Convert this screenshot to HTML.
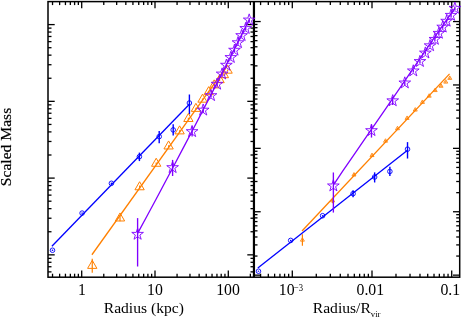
<!DOCTYPE html>
<html><head><meta charset="utf-8"><style>
html,body{margin:0;padding:0;background:#fff;}
body{width:471px;height:319px;overflow:hidden;position:relative;font-family:"Liberation Serif",serif;color:#000;}
svg{position:absolute;left:0;top:0;}
svg.tx{filter:grayscale(1);}
.t{position:absolute;white-space:nowrap;font-size:15px;line-height:15px;}
</style></head><body>
<svg width="471" height="319" viewBox="0 0 471 319">
<line x1="52.53" y1="1.60" x2="52.53" y2="5.10" stroke="#000" stroke-width="1.3" stroke-linecap="butt"/>
<line x1="52.53" y1="277.20" x2="52.53" y2="273.70" stroke="#000" stroke-width="1.3" stroke-linecap="butt"/>
<line x1="59.63" y1="1.60" x2="59.63" y2="5.10" stroke="#000" stroke-width="1.3" stroke-linecap="butt"/>
<line x1="59.63" y1="277.20" x2="59.63" y2="273.70" stroke="#000" stroke-width="1.3" stroke-linecap="butt"/>
<line x1="65.44" y1="1.60" x2="65.44" y2="5.10" stroke="#000" stroke-width="1.3" stroke-linecap="butt"/>
<line x1="65.44" y1="277.20" x2="65.44" y2="273.70" stroke="#000" stroke-width="1.3" stroke-linecap="butt"/>
<line x1="70.35" y1="1.60" x2="70.35" y2="5.10" stroke="#000" stroke-width="1.3" stroke-linecap="butt"/>
<line x1="70.35" y1="277.20" x2="70.35" y2="273.70" stroke="#000" stroke-width="1.3" stroke-linecap="butt"/>
<line x1="74.60" y1="1.60" x2="74.60" y2="5.10" stroke="#000" stroke-width="1.3" stroke-linecap="butt"/>
<line x1="74.60" y1="277.20" x2="74.60" y2="273.70" stroke="#000" stroke-width="1.3" stroke-linecap="butt"/>
<line x1="78.35" y1="1.60" x2="78.35" y2="5.10" stroke="#000" stroke-width="1.3" stroke-linecap="butt"/>
<line x1="78.35" y1="277.20" x2="78.35" y2="273.70" stroke="#000" stroke-width="1.3" stroke-linecap="butt"/>
<line x1="81.70" y1="1.60" x2="81.70" y2="8.30" stroke="#000" stroke-width="1.3" stroke-linecap="butt"/>
<line x1="81.70" y1="277.20" x2="81.70" y2="270.50" stroke="#000" stroke-width="1.3" stroke-linecap="butt"/>
<line x1="103.77" y1="1.60" x2="103.77" y2="5.10" stroke="#000" stroke-width="1.3" stroke-linecap="butt"/>
<line x1="103.77" y1="277.20" x2="103.77" y2="273.70" stroke="#000" stroke-width="1.3" stroke-linecap="butt"/>
<line x1="116.67" y1="1.60" x2="116.67" y2="5.10" stroke="#000" stroke-width="1.3" stroke-linecap="butt"/>
<line x1="116.67" y1="277.20" x2="116.67" y2="273.70" stroke="#000" stroke-width="1.3" stroke-linecap="butt"/>
<line x1="125.83" y1="1.60" x2="125.83" y2="5.10" stroke="#000" stroke-width="1.3" stroke-linecap="butt"/>
<line x1="125.83" y1="277.20" x2="125.83" y2="273.70" stroke="#000" stroke-width="1.3" stroke-linecap="butt"/>
<line x1="132.93" y1="1.60" x2="132.93" y2="5.10" stroke="#000" stroke-width="1.3" stroke-linecap="butt"/>
<line x1="132.93" y1="277.20" x2="132.93" y2="273.70" stroke="#000" stroke-width="1.3" stroke-linecap="butt"/>
<line x1="138.74" y1="1.60" x2="138.74" y2="5.10" stroke="#000" stroke-width="1.3" stroke-linecap="butt"/>
<line x1="138.74" y1="277.20" x2="138.74" y2="273.70" stroke="#000" stroke-width="1.3" stroke-linecap="butt"/>
<line x1="143.65" y1="1.60" x2="143.65" y2="5.10" stroke="#000" stroke-width="1.3" stroke-linecap="butt"/>
<line x1="143.65" y1="277.20" x2="143.65" y2="273.70" stroke="#000" stroke-width="1.3" stroke-linecap="butt"/>
<line x1="147.90" y1="1.60" x2="147.90" y2="5.10" stroke="#000" stroke-width="1.3" stroke-linecap="butt"/>
<line x1="147.90" y1="277.20" x2="147.90" y2="273.70" stroke="#000" stroke-width="1.3" stroke-linecap="butt"/>
<line x1="151.65" y1="1.60" x2="151.65" y2="5.10" stroke="#000" stroke-width="1.3" stroke-linecap="butt"/>
<line x1="151.65" y1="277.20" x2="151.65" y2="273.70" stroke="#000" stroke-width="1.3" stroke-linecap="butt"/>
<line x1="155.00" y1="1.60" x2="155.00" y2="8.30" stroke="#000" stroke-width="1.3" stroke-linecap="butt"/>
<line x1="155.00" y1="277.20" x2="155.00" y2="270.50" stroke="#000" stroke-width="1.3" stroke-linecap="butt"/>
<line x1="177.07" y1="1.60" x2="177.07" y2="5.10" stroke="#000" stroke-width="1.3" stroke-linecap="butt"/>
<line x1="177.07" y1="277.20" x2="177.07" y2="273.70" stroke="#000" stroke-width="1.3" stroke-linecap="butt"/>
<line x1="189.97" y1="1.60" x2="189.97" y2="5.10" stroke="#000" stroke-width="1.3" stroke-linecap="butt"/>
<line x1="189.97" y1="277.20" x2="189.97" y2="273.70" stroke="#000" stroke-width="1.3" stroke-linecap="butt"/>
<line x1="199.13" y1="1.60" x2="199.13" y2="5.10" stroke="#000" stroke-width="1.3" stroke-linecap="butt"/>
<line x1="199.13" y1="277.20" x2="199.13" y2="273.70" stroke="#000" stroke-width="1.3" stroke-linecap="butt"/>
<line x1="206.23" y1="1.60" x2="206.23" y2="5.10" stroke="#000" stroke-width="1.3" stroke-linecap="butt"/>
<line x1="206.23" y1="277.20" x2="206.23" y2="273.70" stroke="#000" stroke-width="1.3" stroke-linecap="butt"/>
<line x1="212.04" y1="1.60" x2="212.04" y2="5.10" stroke="#000" stroke-width="1.3" stroke-linecap="butt"/>
<line x1="212.04" y1="277.20" x2="212.04" y2="273.70" stroke="#000" stroke-width="1.3" stroke-linecap="butt"/>
<line x1="216.95" y1="1.60" x2="216.95" y2="5.10" stroke="#000" stroke-width="1.3" stroke-linecap="butt"/>
<line x1="216.95" y1="277.20" x2="216.95" y2="273.70" stroke="#000" stroke-width="1.3" stroke-linecap="butt"/>
<line x1="221.20" y1="1.60" x2="221.20" y2="5.10" stroke="#000" stroke-width="1.3" stroke-linecap="butt"/>
<line x1="221.20" y1="277.20" x2="221.20" y2="273.70" stroke="#000" stroke-width="1.3" stroke-linecap="butt"/>
<line x1="224.95" y1="1.60" x2="224.95" y2="5.10" stroke="#000" stroke-width="1.3" stroke-linecap="butt"/>
<line x1="224.95" y1="277.20" x2="224.95" y2="273.70" stroke="#000" stroke-width="1.3" stroke-linecap="butt"/>
<line x1="228.30" y1="1.60" x2="228.30" y2="8.30" stroke="#000" stroke-width="1.3" stroke-linecap="butt"/>
<line x1="228.30" y1="277.20" x2="228.30" y2="270.50" stroke="#000" stroke-width="1.3" stroke-linecap="butt"/>
<line x1="250.37" y1="1.60" x2="250.37" y2="5.10" stroke="#000" stroke-width="1.3" stroke-linecap="butt"/>
<line x1="250.37" y1="277.20" x2="250.37" y2="273.70" stroke="#000" stroke-width="1.3" stroke-linecap="butt"/>
<line x1="260.58" y1="1.60" x2="260.58" y2="5.10" stroke="#000" stroke-width="1.3" stroke-linecap="butt"/>
<line x1="260.58" y1="277.20" x2="260.58" y2="273.70" stroke="#000" stroke-width="1.3" stroke-linecap="butt"/>
<line x1="268.31" y1="1.60" x2="268.31" y2="5.10" stroke="#000" stroke-width="1.3" stroke-linecap="butt"/>
<line x1="268.31" y1="277.20" x2="268.31" y2="273.70" stroke="#000" stroke-width="1.3" stroke-linecap="butt"/>
<line x1="274.62" y1="1.60" x2="274.62" y2="5.10" stroke="#000" stroke-width="1.3" stroke-linecap="butt"/>
<line x1="274.62" y1="277.20" x2="274.62" y2="273.70" stroke="#000" stroke-width="1.3" stroke-linecap="butt"/>
<line x1="279.95" y1="1.60" x2="279.95" y2="5.10" stroke="#000" stroke-width="1.3" stroke-linecap="butt"/>
<line x1="279.95" y1="277.20" x2="279.95" y2="273.70" stroke="#000" stroke-width="1.3" stroke-linecap="butt"/>
<line x1="284.58" y1="1.60" x2="284.58" y2="5.10" stroke="#000" stroke-width="1.3" stroke-linecap="butt"/>
<line x1="284.58" y1="277.20" x2="284.58" y2="273.70" stroke="#000" stroke-width="1.3" stroke-linecap="butt"/>
<line x1="288.65" y1="1.60" x2="288.65" y2="5.10" stroke="#000" stroke-width="1.3" stroke-linecap="butt"/>
<line x1="288.65" y1="277.20" x2="288.65" y2="273.70" stroke="#000" stroke-width="1.3" stroke-linecap="butt"/>
<line x1="292.30" y1="1.60" x2="292.30" y2="8.30" stroke="#000" stroke-width="1.3" stroke-linecap="butt"/>
<line x1="292.30" y1="277.20" x2="292.30" y2="270.50" stroke="#000" stroke-width="1.3" stroke-linecap="butt"/>
<line x1="316.29" y1="1.60" x2="316.29" y2="5.10" stroke="#000" stroke-width="1.3" stroke-linecap="butt"/>
<line x1="316.29" y1="277.20" x2="316.29" y2="273.70" stroke="#000" stroke-width="1.3" stroke-linecap="butt"/>
<line x1="330.33" y1="1.60" x2="330.33" y2="5.10" stroke="#000" stroke-width="1.3" stroke-linecap="butt"/>
<line x1="330.33" y1="277.20" x2="330.33" y2="273.70" stroke="#000" stroke-width="1.3" stroke-linecap="butt"/>
<line x1="340.28" y1="1.60" x2="340.28" y2="5.10" stroke="#000" stroke-width="1.3" stroke-linecap="butt"/>
<line x1="340.28" y1="277.20" x2="340.28" y2="273.70" stroke="#000" stroke-width="1.3" stroke-linecap="butt"/>
<line x1="348.01" y1="1.60" x2="348.01" y2="5.10" stroke="#000" stroke-width="1.3" stroke-linecap="butt"/>
<line x1="348.01" y1="277.20" x2="348.01" y2="273.70" stroke="#000" stroke-width="1.3" stroke-linecap="butt"/>
<line x1="354.32" y1="1.60" x2="354.32" y2="5.10" stroke="#000" stroke-width="1.3" stroke-linecap="butt"/>
<line x1="354.32" y1="277.20" x2="354.32" y2="273.70" stroke="#000" stroke-width="1.3" stroke-linecap="butt"/>
<line x1="359.65" y1="1.60" x2="359.65" y2="5.10" stroke="#000" stroke-width="1.3" stroke-linecap="butt"/>
<line x1="359.65" y1="277.20" x2="359.65" y2="273.70" stroke="#000" stroke-width="1.3" stroke-linecap="butt"/>
<line x1="364.28" y1="1.60" x2="364.28" y2="5.10" stroke="#000" stroke-width="1.3" stroke-linecap="butt"/>
<line x1="364.28" y1="277.20" x2="364.28" y2="273.70" stroke="#000" stroke-width="1.3" stroke-linecap="butt"/>
<line x1="368.35" y1="1.60" x2="368.35" y2="5.10" stroke="#000" stroke-width="1.3" stroke-linecap="butt"/>
<line x1="368.35" y1="277.20" x2="368.35" y2="273.70" stroke="#000" stroke-width="1.3" stroke-linecap="butt"/>
<line x1="372.00" y1="1.60" x2="372.00" y2="8.30" stroke="#000" stroke-width="1.3" stroke-linecap="butt"/>
<line x1="372.00" y1="277.20" x2="372.00" y2="270.50" stroke="#000" stroke-width="1.3" stroke-linecap="butt"/>
<line x1="395.99" y1="1.60" x2="395.99" y2="5.10" stroke="#000" stroke-width="1.3" stroke-linecap="butt"/>
<line x1="395.99" y1="277.20" x2="395.99" y2="273.70" stroke="#000" stroke-width="1.3" stroke-linecap="butt"/>
<line x1="410.03" y1="1.60" x2="410.03" y2="5.10" stroke="#000" stroke-width="1.3" stroke-linecap="butt"/>
<line x1="410.03" y1="277.20" x2="410.03" y2="273.70" stroke="#000" stroke-width="1.3" stroke-linecap="butt"/>
<line x1="419.98" y1="1.60" x2="419.98" y2="5.10" stroke="#000" stroke-width="1.3" stroke-linecap="butt"/>
<line x1="419.98" y1="277.20" x2="419.98" y2="273.70" stroke="#000" stroke-width="1.3" stroke-linecap="butt"/>
<line x1="427.71" y1="1.60" x2="427.71" y2="5.10" stroke="#000" stroke-width="1.3" stroke-linecap="butt"/>
<line x1="427.71" y1="277.20" x2="427.71" y2="273.70" stroke="#000" stroke-width="1.3" stroke-linecap="butt"/>
<line x1="434.02" y1="1.60" x2="434.02" y2="5.10" stroke="#000" stroke-width="1.3" stroke-linecap="butt"/>
<line x1="434.02" y1="277.20" x2="434.02" y2="273.70" stroke="#000" stroke-width="1.3" stroke-linecap="butt"/>
<line x1="439.35" y1="1.60" x2="439.35" y2="5.10" stroke="#000" stroke-width="1.3" stroke-linecap="butt"/>
<line x1="439.35" y1="277.20" x2="439.35" y2="273.70" stroke="#000" stroke-width="1.3" stroke-linecap="butt"/>
<line x1="443.98" y1="1.60" x2="443.98" y2="5.10" stroke="#000" stroke-width="1.3" stroke-linecap="butt"/>
<line x1="443.98" y1="277.20" x2="443.98" y2="273.70" stroke="#000" stroke-width="1.3" stroke-linecap="butt"/>
<line x1="448.05" y1="1.60" x2="448.05" y2="5.10" stroke="#000" stroke-width="1.3" stroke-linecap="butt"/>
<line x1="448.05" y1="277.20" x2="448.05" y2="273.70" stroke="#000" stroke-width="1.3" stroke-linecap="butt"/>
<line x1="451.70" y1="1.60" x2="451.70" y2="8.30" stroke="#000" stroke-width="1.3" stroke-linecap="butt"/>
<line x1="451.70" y1="277.20" x2="451.70" y2="270.50" stroke="#000" stroke-width="1.3" stroke-linecap="butt"/>
<line x1="48.00" y1="24.60" x2="54.70" y2="24.60" stroke="#000" stroke-width="1.3" stroke-linecap="butt"/>
<line x1="254.00" y1="24.60" x2="247.30" y2="24.60" stroke="#000" stroke-width="1.3" stroke-linecap="butt"/>
<line x1="48.00" y1="78.25" x2="51.50" y2="78.25" stroke="#000" stroke-width="1.3" stroke-linecap="butt"/>
<line x1="254.00" y1="78.25" x2="250.50" y2="78.25" stroke="#000" stroke-width="1.3" stroke-linecap="butt"/>
<line x1="48.00" y1="64.73" x2="51.50" y2="64.73" stroke="#000" stroke-width="1.3" stroke-linecap="butt"/>
<line x1="254.00" y1="64.73" x2="250.50" y2="64.73" stroke="#000" stroke-width="1.3" stroke-linecap="butt"/>
<line x1="48.00" y1="55.14" x2="51.50" y2="55.14" stroke="#000" stroke-width="1.3" stroke-linecap="butt"/>
<line x1="254.00" y1="55.14" x2="250.50" y2="55.14" stroke="#000" stroke-width="1.3" stroke-linecap="butt"/>
<line x1="48.00" y1="47.70" x2="51.50" y2="47.70" stroke="#000" stroke-width="1.3" stroke-linecap="butt"/>
<line x1="254.00" y1="47.70" x2="250.50" y2="47.70" stroke="#000" stroke-width="1.3" stroke-linecap="butt"/>
<line x1="48.00" y1="41.63" x2="51.50" y2="41.63" stroke="#000" stroke-width="1.3" stroke-linecap="butt"/>
<line x1="254.00" y1="41.63" x2="250.50" y2="41.63" stroke="#000" stroke-width="1.3" stroke-linecap="butt"/>
<line x1="48.00" y1="36.49" x2="51.50" y2="36.49" stroke="#000" stroke-width="1.3" stroke-linecap="butt"/>
<line x1="254.00" y1="36.49" x2="250.50" y2="36.49" stroke="#000" stroke-width="1.3" stroke-linecap="butt"/>
<line x1="48.00" y1="32.04" x2="51.50" y2="32.04" stroke="#000" stroke-width="1.3" stroke-linecap="butt"/>
<line x1="254.00" y1="32.04" x2="250.50" y2="32.04" stroke="#000" stroke-width="1.3" stroke-linecap="butt"/>
<line x1="48.00" y1="28.11" x2="51.50" y2="28.11" stroke="#000" stroke-width="1.3" stroke-linecap="butt"/>
<line x1="254.00" y1="28.11" x2="250.50" y2="28.11" stroke="#000" stroke-width="1.3" stroke-linecap="butt"/>
<line x1="48.00" y1="101.35" x2="54.70" y2="101.35" stroke="#000" stroke-width="1.3" stroke-linecap="butt"/>
<line x1="254.00" y1="101.35" x2="247.30" y2="101.35" stroke="#000" stroke-width="1.3" stroke-linecap="butt"/>
<line x1="48.00" y1="155.00" x2="51.50" y2="155.00" stroke="#000" stroke-width="1.3" stroke-linecap="butt"/>
<line x1="254.00" y1="155.00" x2="250.50" y2="155.00" stroke="#000" stroke-width="1.3" stroke-linecap="butt"/>
<line x1="48.00" y1="141.48" x2="51.50" y2="141.48" stroke="#000" stroke-width="1.3" stroke-linecap="butt"/>
<line x1="254.00" y1="141.48" x2="250.50" y2="141.48" stroke="#000" stroke-width="1.3" stroke-linecap="butt"/>
<line x1="48.00" y1="131.89" x2="51.50" y2="131.89" stroke="#000" stroke-width="1.3" stroke-linecap="butt"/>
<line x1="254.00" y1="131.89" x2="250.50" y2="131.89" stroke="#000" stroke-width="1.3" stroke-linecap="butt"/>
<line x1="48.00" y1="124.45" x2="51.50" y2="124.45" stroke="#000" stroke-width="1.3" stroke-linecap="butt"/>
<line x1="254.00" y1="124.45" x2="250.50" y2="124.45" stroke="#000" stroke-width="1.3" stroke-linecap="butt"/>
<line x1="48.00" y1="118.38" x2="51.50" y2="118.38" stroke="#000" stroke-width="1.3" stroke-linecap="butt"/>
<line x1="254.00" y1="118.38" x2="250.50" y2="118.38" stroke="#000" stroke-width="1.3" stroke-linecap="butt"/>
<line x1="48.00" y1="113.24" x2="51.50" y2="113.24" stroke="#000" stroke-width="1.3" stroke-linecap="butt"/>
<line x1="254.00" y1="113.24" x2="250.50" y2="113.24" stroke="#000" stroke-width="1.3" stroke-linecap="butt"/>
<line x1="48.00" y1="108.79" x2="51.50" y2="108.79" stroke="#000" stroke-width="1.3" stroke-linecap="butt"/>
<line x1="254.00" y1="108.79" x2="250.50" y2="108.79" stroke="#000" stroke-width="1.3" stroke-linecap="butt"/>
<line x1="48.00" y1="104.86" x2="51.50" y2="104.86" stroke="#000" stroke-width="1.3" stroke-linecap="butt"/>
<line x1="254.00" y1="104.86" x2="250.50" y2="104.86" stroke="#000" stroke-width="1.3" stroke-linecap="butt"/>
<line x1="48.00" y1="178.10" x2="54.70" y2="178.10" stroke="#000" stroke-width="1.3" stroke-linecap="butt"/>
<line x1="254.00" y1="178.10" x2="247.30" y2="178.10" stroke="#000" stroke-width="1.3" stroke-linecap="butt"/>
<line x1="48.00" y1="231.75" x2="51.50" y2="231.75" stroke="#000" stroke-width="1.3" stroke-linecap="butt"/>
<line x1="254.00" y1="231.75" x2="250.50" y2="231.75" stroke="#000" stroke-width="1.3" stroke-linecap="butt"/>
<line x1="48.00" y1="218.23" x2="51.50" y2="218.23" stroke="#000" stroke-width="1.3" stroke-linecap="butt"/>
<line x1="254.00" y1="218.23" x2="250.50" y2="218.23" stroke="#000" stroke-width="1.3" stroke-linecap="butt"/>
<line x1="48.00" y1="208.64" x2="51.50" y2="208.64" stroke="#000" stroke-width="1.3" stroke-linecap="butt"/>
<line x1="254.00" y1="208.64" x2="250.50" y2="208.64" stroke="#000" stroke-width="1.3" stroke-linecap="butt"/>
<line x1="48.00" y1="201.20" x2="51.50" y2="201.20" stroke="#000" stroke-width="1.3" stroke-linecap="butt"/>
<line x1="254.00" y1="201.20" x2="250.50" y2="201.20" stroke="#000" stroke-width="1.3" stroke-linecap="butt"/>
<line x1="48.00" y1="195.13" x2="51.50" y2="195.13" stroke="#000" stroke-width="1.3" stroke-linecap="butt"/>
<line x1="254.00" y1="195.13" x2="250.50" y2="195.13" stroke="#000" stroke-width="1.3" stroke-linecap="butt"/>
<line x1="48.00" y1="189.99" x2="51.50" y2="189.99" stroke="#000" stroke-width="1.3" stroke-linecap="butt"/>
<line x1="254.00" y1="189.99" x2="250.50" y2="189.99" stroke="#000" stroke-width="1.3" stroke-linecap="butt"/>
<line x1="48.00" y1="185.54" x2="51.50" y2="185.54" stroke="#000" stroke-width="1.3" stroke-linecap="butt"/>
<line x1="254.00" y1="185.54" x2="250.50" y2="185.54" stroke="#000" stroke-width="1.3" stroke-linecap="butt"/>
<line x1="48.00" y1="181.61" x2="51.50" y2="181.61" stroke="#000" stroke-width="1.3" stroke-linecap="butt"/>
<line x1="254.00" y1="181.61" x2="250.50" y2="181.61" stroke="#000" stroke-width="1.3" stroke-linecap="butt"/>
<line x1="48.00" y1="254.85" x2="54.70" y2="254.85" stroke="#000" stroke-width="1.3" stroke-linecap="butt"/>
<line x1="254.00" y1="254.85" x2="247.30" y2="254.85" stroke="#000" stroke-width="1.3" stroke-linecap="butt"/>
<line x1="48.00" y1="271.88" x2="51.50" y2="271.88" stroke="#000" stroke-width="1.3" stroke-linecap="butt"/>
<line x1="254.00" y1="271.88" x2="250.50" y2="271.88" stroke="#000" stroke-width="1.3" stroke-linecap="butt"/>
<line x1="48.00" y1="266.74" x2="51.50" y2="266.74" stroke="#000" stroke-width="1.3" stroke-linecap="butt"/>
<line x1="254.00" y1="266.74" x2="250.50" y2="266.74" stroke="#000" stroke-width="1.3" stroke-linecap="butt"/>
<line x1="48.00" y1="262.29" x2="51.50" y2="262.29" stroke="#000" stroke-width="1.3" stroke-linecap="butt"/>
<line x1="254.00" y1="262.29" x2="250.50" y2="262.29" stroke="#000" stroke-width="1.3" stroke-linecap="butt"/>
<line x1="48.00" y1="258.36" x2="51.50" y2="258.36" stroke="#000" stroke-width="1.3" stroke-linecap="butt"/>
<line x1="254.00" y1="258.36" x2="250.50" y2="258.36" stroke="#000" stroke-width="1.3" stroke-linecap="butt"/>
<line x1="254.00" y1="21.55" x2="260.70" y2="21.55" stroke="#000" stroke-width="1.3" stroke-linecap="butt"/>
<line x1="459.70" y1="21.55" x2="453.00" y2="21.55" stroke="#000" stroke-width="1.3" stroke-linecap="butt"/>
<line x1="254.00" y1="65.86" x2="257.50" y2="65.86" stroke="#000" stroke-width="1.3" stroke-linecap="butt"/>
<line x1="459.70" y1="65.86" x2="456.20" y2="65.86" stroke="#000" stroke-width="1.3" stroke-linecap="butt"/>
<line x1="254.00" y1="54.70" x2="257.50" y2="54.70" stroke="#000" stroke-width="1.3" stroke-linecap="butt"/>
<line x1="459.70" y1="54.70" x2="456.20" y2="54.70" stroke="#000" stroke-width="1.3" stroke-linecap="butt"/>
<line x1="254.00" y1="46.78" x2="257.50" y2="46.78" stroke="#000" stroke-width="1.3" stroke-linecap="butt"/>
<line x1="459.70" y1="46.78" x2="456.20" y2="46.78" stroke="#000" stroke-width="1.3" stroke-linecap="butt"/>
<line x1="254.00" y1="40.64" x2="257.50" y2="40.64" stroke="#000" stroke-width="1.3" stroke-linecap="butt"/>
<line x1="459.70" y1="40.64" x2="456.20" y2="40.64" stroke="#000" stroke-width="1.3" stroke-linecap="butt"/>
<line x1="254.00" y1="35.62" x2="257.50" y2="35.62" stroke="#000" stroke-width="1.3" stroke-linecap="butt"/>
<line x1="459.70" y1="35.62" x2="456.20" y2="35.62" stroke="#000" stroke-width="1.3" stroke-linecap="butt"/>
<line x1="254.00" y1="31.37" x2="257.50" y2="31.37" stroke="#000" stroke-width="1.3" stroke-linecap="butt"/>
<line x1="459.70" y1="31.37" x2="456.20" y2="31.37" stroke="#000" stroke-width="1.3" stroke-linecap="butt"/>
<line x1="254.00" y1="27.69" x2="257.50" y2="27.69" stroke="#000" stroke-width="1.3" stroke-linecap="butt"/>
<line x1="459.70" y1="27.69" x2="456.20" y2="27.69" stroke="#000" stroke-width="1.3" stroke-linecap="butt"/>
<line x1="254.00" y1="24.45" x2="257.50" y2="24.45" stroke="#000" stroke-width="1.3" stroke-linecap="butt"/>
<line x1="459.70" y1="24.45" x2="456.20" y2="24.45" stroke="#000" stroke-width="1.3" stroke-linecap="butt"/>
<line x1="254.00" y1="84.95" x2="260.70" y2="84.95" stroke="#000" stroke-width="1.3" stroke-linecap="butt"/>
<line x1="459.70" y1="84.95" x2="453.00" y2="84.95" stroke="#000" stroke-width="1.3" stroke-linecap="butt"/>
<line x1="254.00" y1="129.26" x2="257.50" y2="129.26" stroke="#000" stroke-width="1.3" stroke-linecap="butt"/>
<line x1="459.70" y1="129.26" x2="456.20" y2="129.26" stroke="#000" stroke-width="1.3" stroke-linecap="butt"/>
<line x1="254.00" y1="118.10" x2="257.50" y2="118.10" stroke="#000" stroke-width="1.3" stroke-linecap="butt"/>
<line x1="459.70" y1="118.10" x2="456.20" y2="118.10" stroke="#000" stroke-width="1.3" stroke-linecap="butt"/>
<line x1="254.00" y1="110.18" x2="257.50" y2="110.18" stroke="#000" stroke-width="1.3" stroke-linecap="butt"/>
<line x1="459.70" y1="110.18" x2="456.20" y2="110.18" stroke="#000" stroke-width="1.3" stroke-linecap="butt"/>
<line x1="254.00" y1="104.04" x2="257.50" y2="104.04" stroke="#000" stroke-width="1.3" stroke-linecap="butt"/>
<line x1="459.70" y1="104.04" x2="456.20" y2="104.04" stroke="#000" stroke-width="1.3" stroke-linecap="butt"/>
<line x1="254.00" y1="99.02" x2="257.50" y2="99.02" stroke="#000" stroke-width="1.3" stroke-linecap="butt"/>
<line x1="459.70" y1="99.02" x2="456.20" y2="99.02" stroke="#000" stroke-width="1.3" stroke-linecap="butt"/>
<line x1="254.00" y1="94.77" x2="257.50" y2="94.77" stroke="#000" stroke-width="1.3" stroke-linecap="butt"/>
<line x1="459.70" y1="94.77" x2="456.20" y2="94.77" stroke="#000" stroke-width="1.3" stroke-linecap="butt"/>
<line x1="254.00" y1="91.09" x2="257.50" y2="91.09" stroke="#000" stroke-width="1.3" stroke-linecap="butt"/>
<line x1="459.70" y1="91.09" x2="456.20" y2="91.09" stroke="#000" stroke-width="1.3" stroke-linecap="butt"/>
<line x1="254.00" y1="87.85" x2="257.50" y2="87.85" stroke="#000" stroke-width="1.3" stroke-linecap="butt"/>
<line x1="459.70" y1="87.85" x2="456.20" y2="87.85" stroke="#000" stroke-width="1.3" stroke-linecap="butt"/>
<line x1="254.00" y1="148.35" x2="260.70" y2="148.35" stroke="#000" stroke-width="1.3" stroke-linecap="butt"/>
<line x1="459.70" y1="148.35" x2="453.00" y2="148.35" stroke="#000" stroke-width="1.3" stroke-linecap="butt"/>
<line x1="254.00" y1="192.66" x2="257.50" y2="192.66" stroke="#000" stroke-width="1.3" stroke-linecap="butt"/>
<line x1="459.70" y1="192.66" x2="456.20" y2="192.66" stroke="#000" stroke-width="1.3" stroke-linecap="butt"/>
<line x1="254.00" y1="181.50" x2="257.50" y2="181.50" stroke="#000" stroke-width="1.3" stroke-linecap="butt"/>
<line x1="459.70" y1="181.50" x2="456.20" y2="181.50" stroke="#000" stroke-width="1.3" stroke-linecap="butt"/>
<line x1="254.00" y1="173.58" x2="257.50" y2="173.58" stroke="#000" stroke-width="1.3" stroke-linecap="butt"/>
<line x1="459.70" y1="173.58" x2="456.20" y2="173.58" stroke="#000" stroke-width="1.3" stroke-linecap="butt"/>
<line x1="254.00" y1="167.44" x2="257.50" y2="167.44" stroke="#000" stroke-width="1.3" stroke-linecap="butt"/>
<line x1="459.70" y1="167.44" x2="456.20" y2="167.44" stroke="#000" stroke-width="1.3" stroke-linecap="butt"/>
<line x1="254.00" y1="162.42" x2="257.50" y2="162.42" stroke="#000" stroke-width="1.3" stroke-linecap="butt"/>
<line x1="459.70" y1="162.42" x2="456.20" y2="162.42" stroke="#000" stroke-width="1.3" stroke-linecap="butt"/>
<line x1="254.00" y1="158.17" x2="257.50" y2="158.17" stroke="#000" stroke-width="1.3" stroke-linecap="butt"/>
<line x1="459.70" y1="158.17" x2="456.20" y2="158.17" stroke="#000" stroke-width="1.3" stroke-linecap="butt"/>
<line x1="254.00" y1="154.49" x2="257.50" y2="154.49" stroke="#000" stroke-width="1.3" stroke-linecap="butt"/>
<line x1="459.70" y1="154.49" x2="456.20" y2="154.49" stroke="#000" stroke-width="1.3" stroke-linecap="butt"/>
<line x1="254.00" y1="151.25" x2="257.50" y2="151.25" stroke="#000" stroke-width="1.3" stroke-linecap="butt"/>
<line x1="459.70" y1="151.25" x2="456.20" y2="151.25" stroke="#000" stroke-width="1.3" stroke-linecap="butt"/>
<line x1="254.00" y1="211.75" x2="260.70" y2="211.75" stroke="#000" stroke-width="1.3" stroke-linecap="butt"/>
<line x1="459.70" y1="211.75" x2="453.00" y2="211.75" stroke="#000" stroke-width="1.3" stroke-linecap="butt"/>
<line x1="254.00" y1="256.06" x2="257.50" y2="256.06" stroke="#000" stroke-width="1.3" stroke-linecap="butt"/>
<line x1="459.70" y1="256.06" x2="456.20" y2="256.06" stroke="#000" stroke-width="1.3" stroke-linecap="butt"/>
<line x1="254.00" y1="244.90" x2="257.50" y2="244.90" stroke="#000" stroke-width="1.3" stroke-linecap="butt"/>
<line x1="459.70" y1="244.90" x2="456.20" y2="244.90" stroke="#000" stroke-width="1.3" stroke-linecap="butt"/>
<line x1="254.00" y1="236.98" x2="257.50" y2="236.98" stroke="#000" stroke-width="1.3" stroke-linecap="butt"/>
<line x1="459.70" y1="236.98" x2="456.20" y2="236.98" stroke="#000" stroke-width="1.3" stroke-linecap="butt"/>
<line x1="254.00" y1="230.84" x2="257.50" y2="230.84" stroke="#000" stroke-width="1.3" stroke-linecap="butt"/>
<line x1="459.70" y1="230.84" x2="456.20" y2="230.84" stroke="#000" stroke-width="1.3" stroke-linecap="butt"/>
<line x1="254.00" y1="225.82" x2="257.50" y2="225.82" stroke="#000" stroke-width="1.3" stroke-linecap="butt"/>
<line x1="459.70" y1="225.82" x2="456.20" y2="225.82" stroke="#000" stroke-width="1.3" stroke-linecap="butt"/>
<line x1="254.00" y1="221.57" x2="257.50" y2="221.57" stroke="#000" stroke-width="1.3" stroke-linecap="butt"/>
<line x1="459.70" y1="221.57" x2="456.20" y2="221.57" stroke="#000" stroke-width="1.3" stroke-linecap="butt"/>
<line x1="254.00" y1="217.89" x2="257.50" y2="217.89" stroke="#000" stroke-width="1.3" stroke-linecap="butt"/>
<line x1="459.70" y1="217.89" x2="456.20" y2="217.89" stroke="#000" stroke-width="1.3" stroke-linecap="butt"/>
<line x1="254.00" y1="214.65" x2="257.50" y2="214.65" stroke="#000" stroke-width="1.3" stroke-linecap="butt"/>
<line x1="459.70" y1="214.65" x2="456.20" y2="214.65" stroke="#000" stroke-width="1.3" stroke-linecap="butt"/>
<line x1="254.00" y1="275.15" x2="260.70" y2="275.15" stroke="#000" stroke-width="1.3" stroke-linecap="butt"/>
<line x1="459.70" y1="275.15" x2="453.00" y2="275.15" stroke="#000" stroke-width="1.3" stroke-linecap="butt"/>
<rect x="48.0" y="1.6" width="411.7" height="275.59999999999997" fill="none" stroke="#000" stroke-width="1.5"/>
<line x1="253.95" y1="1.60" x2="253.95" y2="277.20" stroke="#000" stroke-width="2.2" stroke-linecap="butt"/>
<polyline points="51.90,246.25 189.40,104.20" fill="none" stroke="#0000ff" stroke-width="1.3"/>
<line x1="52.50" y1="249.55" x2="52.50" y2="250.95" stroke="#0000ff" stroke-width="1.4" stroke-linecap="butt"/>
<circle cx="52.50" cy="250.25" r="2.3" fill="none" stroke="#0000ff" stroke-width="0.9"/>
<line x1="82.10" y1="212.40" x2="82.10" y2="213.80" stroke="#0000ff" stroke-width="1.4" stroke-linecap="butt"/>
<circle cx="82.10" cy="213.10" r="2.3" fill="none" stroke="#0000ff" stroke-width="0.9"/>
<line x1="111.40" y1="182.60" x2="111.40" y2="184.00" stroke="#0000ff" stroke-width="1.4" stroke-linecap="butt"/>
<circle cx="111.40" cy="183.30" r="2.3" fill="none" stroke="#0000ff" stroke-width="0.9"/>
<line x1="139.40" y1="152.60" x2="139.40" y2="161.10" stroke="#0000ff" stroke-width="1.4" stroke-linecap="butt"/>
<circle cx="139.40" cy="156.70" r="2.3" fill="none" stroke="#0000ff" stroke-width="0.9"/>
<line x1="159.20" y1="131.00" x2="159.20" y2="143.20" stroke="#0000ff" stroke-width="1.4" stroke-linecap="butt"/>
<circle cx="159.20" cy="136.60" r="2.3" fill="none" stroke="#0000ff" stroke-width="0.9"/>
<line x1="173.20" y1="124.30" x2="173.20" y2="135.50" stroke="#0000ff" stroke-width="1.4" stroke-linecap="butt"/>
<circle cx="173.20" cy="129.90" r="2.3" fill="none" stroke="#0000ff" stroke-width="0.9"/>
<line x1="189.40" y1="94.50" x2="189.40" y2="114.30" stroke="#0000ff" stroke-width="1.4" stroke-linecap="butt"/>
<circle cx="189.40" cy="103.00" r="2.3" fill="none" stroke="#0000ff" stroke-width="0.9"/>
<polyline points="91.90,254.75 227.40,65.30" fill="none" stroke="#ff8000" stroke-width="1.3"/>
<line x1="92.25" y1="258.70" x2="92.25" y2="272.70" stroke="#ff8000" stroke-width="1.2" stroke-linecap="butt"/>
<polygon points="92.25,260.33 87.60,268.38 96.90,268.38" fill="none" stroke="#ff8000" stroke-width="1.0"/>
<line x1="120.00" y1="215.30" x2="120.00" y2="221.30" stroke="#ff8000" stroke-width="1.2" stroke-linecap="butt"/>
<polygon points="120.00,212.93 115.35,220.98 124.65,220.98" fill="none" stroke="#ff8000" stroke-width="1.0"/>
<line x1="139.60" y1="185.60" x2="139.60" y2="188.60" stroke="#ff8000" stroke-width="1.2" stroke-linecap="butt"/>
<polygon points="139.60,181.73 134.95,189.78 144.25,189.78" fill="none" stroke="#ff8000" stroke-width="1.0"/>
<line x1="156.20" y1="162.60" x2="156.20" y2="164.60" stroke="#ff8000" stroke-width="1.2" stroke-linecap="butt"/>
<polygon points="156.20,158.23 151.55,166.28 160.85,166.28" fill="none" stroke="#ff8000" stroke-width="1.0"/>
<line x1="168.60" y1="145.30" x2="168.60" y2="147.30" stroke="#ff8000" stroke-width="1.2" stroke-linecap="butt"/>
<polygon points="168.60,140.93 163.95,148.98 173.25,148.98" fill="none" stroke="#ff8000" stroke-width="1.0"/>
<line x1="179.60" y1="130.20" x2="179.60" y2="132.20" stroke="#ff8000" stroke-width="1.2" stroke-linecap="butt"/>
<polygon points="179.60,125.83 174.95,133.88 184.25,133.88" fill="none" stroke="#ff8000" stroke-width="1.0"/>
<line x1="188.40" y1="117.80" x2="188.40" y2="119.80" stroke="#ff8000" stroke-width="1.2" stroke-linecap="butt"/>
<polygon points="188.40,113.43 183.75,121.48 193.05,121.48" fill="none" stroke="#ff8000" stroke-width="1.0"/>
<line x1="195.90" y1="107.70" x2="195.90" y2="109.70" stroke="#ff8000" stroke-width="1.2" stroke-linecap="butt"/>
<polygon points="195.90,103.33 191.25,111.38 200.55,111.38" fill="none" stroke="#ff8000" stroke-width="1.0"/>
<line x1="202.50" y1="98.50" x2="202.50" y2="100.50" stroke="#ff8000" stroke-width="1.2" stroke-linecap="butt"/>
<polygon points="202.50,94.13 197.85,102.18 207.15,102.18" fill="none" stroke="#ff8000" stroke-width="1.0"/>
<line x1="208.70" y1="91.00" x2="208.70" y2="93.00" stroke="#ff8000" stroke-width="1.2" stroke-linecap="butt"/>
<polygon points="208.70,86.63 204.05,94.68 213.35,94.68" fill="none" stroke="#ff8000" stroke-width="1.0"/>
<line x1="214.20" y1="84.20" x2="214.20" y2="86.20" stroke="#ff8000" stroke-width="1.2" stroke-linecap="butt"/>
<polygon points="214.20,79.83 209.55,87.88 218.85,87.88" fill="none" stroke="#ff8000" stroke-width="1.0"/>
<line x1="219.60" y1="79.00" x2="219.60" y2="81.00" stroke="#ff8000" stroke-width="1.2" stroke-linecap="butt"/>
<polygon points="219.60,74.63 214.95,82.68 224.25,82.68" fill="none" stroke="#ff8000" stroke-width="1.0"/>
<line x1="223.90" y1="74.00" x2="223.90" y2="76.00" stroke="#ff8000" stroke-width="1.2" stroke-linecap="butt"/>
<polygon points="223.90,69.63 219.25,77.68 228.55,77.68" fill="none" stroke="#ff8000" stroke-width="1.0"/>
<line x1="227.60" y1="69.50" x2="227.60" y2="71.50" stroke="#ff8000" stroke-width="1.2" stroke-linecap="butt"/>
<polygon points="227.60,65.13 222.95,73.18 232.25,73.18" fill="none" stroke="#ff8000" stroke-width="1.0"/>
<polyline points="137.60,233.43 146.89,216.24 156.18,198.95 165.47,181.55 174.77,164.04 184.06,146.42 193.35,128.69 202.64,110.85 211.93,92.91 221.22,74.85 230.52,56.69 239.81,38.41 249.10,20.03" fill="none" stroke="#8000ff" stroke-width="1.3"/>
<line x1="137.60" y1="218.10" x2="137.60" y2="266.50" stroke="#8000ff" stroke-width="1.35" stroke-linecap="butt"/>
<polygon points="137.60,228.15 138.98,232.40 143.45,232.40 139.83,235.03 141.21,239.28 137.60,236.65 133.99,239.28 135.37,235.03 131.75,232.40 136.22,232.40" fill="none" stroke="#8000ff" stroke-width="0.9" stroke-linejoin="miter"/>
<line x1="172.60" y1="159.90" x2="172.60" y2="176.00" stroke="#8000ff" stroke-width="1.35" stroke-linecap="butt"/>
<polygon points="172.60,161.45 173.98,165.70 178.45,165.70 174.83,168.33 176.21,172.58 172.60,169.95 168.99,172.58 170.37,168.33 166.75,165.70 171.22,165.70" fill="none" stroke="#8000ff" stroke-width="0.9" stroke-linejoin="miter"/>
<line x1="192.10" y1="126.60" x2="192.10" y2="136.60" stroke="#8000ff" stroke-width="1.35" stroke-linecap="butt"/>
<polygon points="192.10,125.45 193.48,129.70 197.95,129.70 194.33,132.33 195.71,136.58 192.10,133.95 188.49,136.58 189.87,132.33 186.25,129.70 190.72,129.70" fill="none" stroke="#8000ff" stroke-width="0.9" stroke-linejoin="miter"/>
<line x1="203.20" y1="107.10" x2="203.20" y2="113.10" stroke="#8000ff" stroke-width="1.35" stroke-linecap="butt"/>
<polygon points="203.20,103.95 204.58,108.20 209.05,108.20 205.43,110.83 206.81,115.08 203.20,112.45 199.59,115.08 200.97,110.83 197.35,108.20 201.82,108.20" fill="none" stroke="#8000ff" stroke-width="0.9" stroke-linejoin="miter"/>
<line x1="211.00" y1="93.60" x2="211.00" y2="97.60" stroke="#8000ff" stroke-width="1.35" stroke-linecap="butt"/>
<polygon points="211.00,89.45 212.38,93.70 216.85,93.70 213.23,96.33 214.61,100.58 211.00,97.95 207.39,100.58 208.77,96.33 205.15,93.70 209.62,93.70" fill="none" stroke="#8000ff" stroke-width="0.9" stroke-linejoin="miter"/>
<line x1="217.10" y1="82.20" x2="217.10" y2="86.20" stroke="#8000ff" stroke-width="1.35" stroke-linecap="butt"/>
<polygon points="217.10,78.05 218.48,82.30 222.95,82.30 219.33,84.93 220.71,89.18 217.10,86.55 213.49,89.18 214.87,84.93 211.25,82.30 215.72,82.30" fill="none" stroke="#8000ff" stroke-width="0.9" stroke-linejoin="miter"/>
<line x1="222.10" y1="72.00" x2="222.10" y2="76.00" stroke="#8000ff" stroke-width="1.35" stroke-linecap="butt"/>
<polygon points="222.10,67.85 223.48,72.10 227.95,72.10 224.33,74.73 225.71,78.98 222.10,76.35 218.49,78.98 219.87,74.73 216.25,72.10 220.72,72.10" fill="none" stroke="#8000ff" stroke-width="0.9" stroke-linejoin="miter"/>
<line x1="226.40" y1="63.20" x2="226.40" y2="67.20" stroke="#8000ff" stroke-width="1.35" stroke-linecap="butt"/>
<polygon points="226.40,59.05 227.78,63.30 232.25,63.30 228.63,65.93 230.01,70.18 226.40,67.55 222.79,70.18 224.17,65.93 220.55,63.30 225.02,63.30" fill="none" stroke="#8000ff" stroke-width="0.9" stroke-linejoin="miter"/>
<line x1="230.80" y1="55.50" x2="230.80" y2="59.50" stroke="#8000ff" stroke-width="1.35" stroke-linecap="butt"/>
<polygon points="230.80,51.35 232.18,55.60 236.65,55.60 233.03,58.23 234.41,62.48 230.80,59.85 227.19,62.48 228.57,58.23 224.95,55.60 229.42,55.60" fill="none" stroke="#8000ff" stroke-width="0.9" stroke-linejoin="miter"/>
<line x1="234.50" y1="48.20" x2="234.50" y2="52.20" stroke="#8000ff" stroke-width="1.35" stroke-linecap="butt"/>
<polygon points="234.50,44.05 235.88,48.30 240.35,48.30 236.73,50.93 238.11,55.18 234.50,52.55 230.89,55.18 232.27,50.93 228.65,48.30 233.12,48.30" fill="none" stroke="#8000ff" stroke-width="0.9" stroke-linejoin="miter"/>
<line x1="238.00" y1="40.70" x2="238.00" y2="44.70" stroke="#8000ff" stroke-width="1.35" stroke-linecap="butt"/>
<polygon points="238.00,36.55 239.38,40.80 243.85,40.80 240.23,43.43 241.61,47.68 238.00,45.05 234.39,47.68 235.77,43.43 232.15,40.80 236.62,40.80" fill="none" stroke="#8000ff" stroke-width="0.9" stroke-linejoin="miter"/>
<line x1="241.60" y1="33.60" x2="241.60" y2="37.60" stroke="#8000ff" stroke-width="1.35" stroke-linecap="butt"/>
<polygon points="241.60,29.45 242.98,33.70 247.45,33.70 243.83,36.33 245.21,40.58 241.60,37.95 237.99,40.58 239.37,36.33 235.75,33.70 240.22,33.70" fill="none" stroke="#8000ff" stroke-width="0.9" stroke-linejoin="miter"/>
<line x1="245.70" y1="26.50" x2="245.70" y2="30.50" stroke="#8000ff" stroke-width="1.35" stroke-linecap="butt"/>
<polygon points="245.70,22.35 247.08,26.60 251.55,26.60 247.93,29.23 249.31,33.48 245.70,30.85 242.09,33.48 243.47,29.23 239.85,26.60 244.32,26.60" fill="none" stroke="#8000ff" stroke-width="0.9" stroke-linejoin="miter"/>
<line x1="249.20" y1="18.00" x2="249.20" y2="22.00" stroke="#8000ff" stroke-width="1.35" stroke-linecap="butt"/>
<polygon points="249.20,13.85 250.58,18.10 255.05,18.10 251.43,20.73 252.81,24.98 249.20,22.35 245.59,24.98 246.97,20.73 243.35,18.10 247.82,18.10" fill="none" stroke="#8000ff" stroke-width="0.9" stroke-linejoin="miter"/>
<polyline points="257.81,267.89 407.52,150.16" fill="none" stroke="#0000ff" stroke-width="1.3"/>
<line x1="258.46" y1="270.63" x2="258.46" y2="271.79" stroke="#0000ff" stroke-width="1.4" stroke-linecap="butt"/>
<circle cx="258.46" cy="271.21" r="2.3" fill="none" stroke="#0000ff" stroke-width="0.9"/>
<line x1="290.69" y1="239.84" x2="290.69" y2="241.00" stroke="#0000ff" stroke-width="1.4" stroke-linecap="butt"/>
<circle cx="290.69" cy="240.42" r="2.3" fill="none" stroke="#0000ff" stroke-width="0.9"/>
<line x1="322.59" y1="215.14" x2="322.59" y2="216.30" stroke="#0000ff" stroke-width="1.4" stroke-linecap="butt"/>
<circle cx="322.59" cy="215.72" r="2.3" fill="none" stroke="#0000ff" stroke-width="0.9"/>
<line x1="353.08" y1="190.27" x2="353.08" y2="197.32" stroke="#0000ff" stroke-width="1.4" stroke-linecap="butt"/>
<circle cx="353.08" cy="193.67" r="2.3" fill="none" stroke="#0000ff" stroke-width="0.9"/>
<line x1="374.64" y1="172.37" x2="374.64" y2="182.48" stroke="#0000ff" stroke-width="1.4" stroke-linecap="butt"/>
<circle cx="374.64" cy="177.01" r="2.3" fill="none" stroke="#0000ff" stroke-width="0.9"/>
<line x1="389.88" y1="166.82" x2="389.88" y2="176.10" stroke="#0000ff" stroke-width="1.4" stroke-linecap="butt"/>
<circle cx="389.88" cy="171.46" r="2.3" fill="none" stroke="#0000ff" stroke-width="0.9"/>
<line x1="407.52" y1="142.12" x2="407.52" y2="158.53" stroke="#0000ff" stroke-width="1.4" stroke-linecap="butt"/>
<circle cx="407.52" cy="149.17" r="2.3" fill="none" stroke="#0000ff" stroke-width="0.9"/>
<polyline points="302.02,230.94 449.55,73.92" fill="none" stroke="#ff8000" stroke-width="1.3"/>
<line x1="302.40" y1="234.21" x2="302.40" y2="245.81" stroke="#ff8000" stroke-width="1.2" stroke-linecap="butt"/>
<polygon points="302.40,237.70 300.40,241.17 304.40,241.17" fill="none" stroke="#ff8000" stroke-width="0.85"/>
<line x1="332.62" y1="198.24" x2="332.62" y2="203.21" stroke="#ff8000" stroke-width="1.2" stroke-linecap="butt"/>
<polygon points="332.62,198.42 330.62,201.88 334.62,201.88" fill="none" stroke="#ff8000" stroke-width="0.85"/>
<line x1="353.96" y1="173.63" x2="353.96" y2="176.11" stroke="#ff8000" stroke-width="1.2" stroke-linecap="butt"/>
<polygon points="353.96,172.56 351.96,176.02 355.96,176.02" fill="none" stroke="#ff8000" stroke-width="0.85"/>
<line x1="372.03" y1="154.56" x2="372.03" y2="156.22" stroke="#ff8000" stroke-width="1.2" stroke-linecap="butt"/>
<polygon points="372.03,153.08 370.03,156.55 374.03,156.55" fill="none" stroke="#ff8000" stroke-width="0.85"/>
<line x1="385.53" y1="140.22" x2="385.53" y2="141.88" stroke="#ff8000" stroke-width="1.2" stroke-linecap="butt"/>
<polygon points="385.53,138.74 383.53,142.21 387.53,142.21" fill="none" stroke="#ff8000" stroke-width="0.85"/>
<line x1="397.51" y1="127.71" x2="397.51" y2="129.37" stroke="#ff8000" stroke-width="1.2" stroke-linecap="butt"/>
<polygon points="397.51,126.23 395.51,129.69 399.51,129.69" fill="none" stroke="#ff8000" stroke-width="0.85"/>
<line x1="407.09" y1="117.43" x2="407.09" y2="119.09" stroke="#ff8000" stroke-width="1.2" stroke-linecap="butt"/>
<polygon points="407.09,115.95 405.09,119.42 409.09,119.42" fill="none" stroke="#ff8000" stroke-width="0.85"/>
<line x1="415.26" y1="109.06" x2="415.26" y2="110.72" stroke="#ff8000" stroke-width="1.2" stroke-linecap="butt"/>
<polygon points="415.26,107.58 413.26,111.05 417.26,111.05" fill="none" stroke="#ff8000" stroke-width="0.85"/>
<line x1="422.44" y1="101.44" x2="422.44" y2="103.09" stroke="#ff8000" stroke-width="1.2" stroke-linecap="butt"/>
<polygon points="422.44,99.96 420.44,103.42 424.44,103.42" fill="none" stroke="#ff8000" stroke-width="0.85"/>
<line x1="429.19" y1="95.22" x2="429.19" y2="96.88" stroke="#ff8000" stroke-width="1.2" stroke-linecap="butt"/>
<polygon points="429.19,93.74 427.19,97.20 431.19,97.20" fill="none" stroke="#ff8000" stroke-width="0.85"/>
<line x1="435.18" y1="89.58" x2="435.18" y2="91.24" stroke="#ff8000" stroke-width="1.2" stroke-linecap="butt"/>
<polygon points="435.18,88.10 433.18,91.57 437.18,91.57" fill="none" stroke="#ff8000" stroke-width="0.85"/>
<line x1="441.06" y1="85.28" x2="441.06" y2="86.93" stroke="#ff8000" stroke-width="1.2" stroke-linecap="butt"/>
<polygon points="441.06,83.79 439.06,87.26 443.06,87.26" fill="none" stroke="#ff8000" stroke-width="0.85"/>
<line x1="445.74" y1="81.13" x2="445.74" y2="82.79" stroke="#ff8000" stroke-width="1.2" stroke-linecap="butt"/>
<polygon points="445.74,79.65 443.74,83.11 447.74,83.11" fill="none" stroke="#ff8000" stroke-width="0.85"/>
<line x1="449.77" y1="77.40" x2="449.77" y2="79.06" stroke="#ff8000" stroke-width="1.2" stroke-linecap="butt"/>
<polygon points="449.77,75.92 447.77,79.39 451.77,79.39" fill="none" stroke="#ff8000" stroke-width="0.85"/>
<polyline points="333.37,185.16 342.84,170.92 352.70,156.59 362.64,142.17 372.64,127.66 382.68,113.05 392.77,98.36 402.90,83.58 413.08,68.70 423.31,53.74 433.60,38.68 443.98,23.54 454.77,8.30" fill="none" stroke="#8000ff" stroke-width="1.3"/>
<line x1="333.37" y1="172.46" x2="333.37" y2="212.58" stroke="#8000ff" stroke-width="1.35" stroke-linecap="butt"/>
<polygon points="333.37,179.74 334.75,183.99 339.22,183.99 335.60,186.61 336.98,190.86 333.37,188.24 329.75,190.86 331.13,186.61 327.52,183.99 331.99,183.99" fill="none" stroke="#8000ff" stroke-width="0.9" stroke-linejoin="miter"/>
<line x1="371.48" y1="124.23" x2="371.48" y2="137.57" stroke="#8000ff" stroke-width="1.35" stroke-linecap="butt"/>
<polygon points="371.48,124.46 372.86,128.71 377.33,128.71 373.71,131.33 375.09,135.58 371.48,132.96 367.86,135.58 369.24,131.33 365.63,128.71 370.10,128.71" fill="none" stroke="#8000ff" stroke-width="0.9" stroke-linejoin="miter"/>
<line x1="392.71" y1="96.63" x2="392.71" y2="104.91" stroke="#8000ff" stroke-width="1.35" stroke-linecap="butt"/>
<polygon points="392.71,94.62 394.09,98.87 398.56,98.87 394.94,101.50 396.32,105.75 392.71,103.12 389.09,105.75 390.47,101.50 386.86,98.87 391.33,98.87" fill="none" stroke="#8000ff" stroke-width="0.9" stroke-linejoin="miter"/>
<line x1="404.79" y1="80.46" x2="404.79" y2="85.44" stroke="#8000ff" stroke-width="1.35" stroke-linecap="butt"/>
<polygon points="404.79,76.80 406.18,81.05 410.64,81.05 407.03,83.68 408.41,87.93 404.79,85.30 401.18,87.93 402.56,83.68 398.95,81.05 403.41,81.05" fill="none" stroke="#8000ff" stroke-width="0.9" stroke-linejoin="miter"/>
<line x1="413.29" y1="69.28" x2="413.29" y2="72.59" stroke="#8000ff" stroke-width="1.35" stroke-linecap="butt"/>
<polygon points="413.29,64.78 414.67,69.03 419.14,69.03 415.52,71.66 416.90,75.91 413.29,73.28 409.67,75.91 411.05,71.66 407.44,69.03 411.91,69.03" fill="none" stroke="#8000ff" stroke-width="0.9" stroke-linejoin="miter"/>
<line x1="419.93" y1="59.83" x2="419.93" y2="63.14" stroke="#8000ff" stroke-width="1.35" stroke-linecap="butt"/>
<polygon points="419.93,55.33 421.31,59.58 425.78,59.58 422.16,62.21 423.54,66.46 419.93,63.83 416.31,66.46 417.69,62.21 414.08,59.58 418.55,59.58" fill="none" stroke="#8000ff" stroke-width="0.9" stroke-linejoin="miter"/>
<line x1="425.37" y1="51.37" x2="425.37" y2="54.69" stroke="#8000ff" stroke-width="1.35" stroke-linecap="butt"/>
<polygon points="425.37,46.88 426.75,51.13 431.22,51.13 427.61,53.76 428.99,58.01 425.37,55.38 421.76,58.01 423.14,53.76 419.52,51.13 423.99,51.13" fill="none" stroke="#8000ff" stroke-width="0.9" stroke-linejoin="miter"/>
<line x1="430.05" y1="44.08" x2="430.05" y2="47.40" stroke="#8000ff" stroke-width="1.35" stroke-linecap="butt"/>
<polygon points="430.05,39.59 431.44,43.84 435.90,43.84 432.29,46.46 433.67,50.71 430.05,48.09 426.44,50.71 427.82,46.46 424.21,43.84 428.67,43.84" fill="none" stroke="#8000ff" stroke-width="0.9" stroke-linejoin="miter"/>
<line x1="434.85" y1="37.70" x2="434.85" y2="41.01" stroke="#8000ff" stroke-width="1.35" stroke-linecap="butt"/>
<polygon points="434.85,33.21 436.23,37.46 440.69,37.46 437.08,40.08 438.46,44.33 434.85,41.71 431.23,44.33 432.61,40.08 429.00,37.46 433.46,37.46" fill="none" stroke="#8000ff" stroke-width="0.9" stroke-linejoin="miter"/>
<line x1="438.87" y1="31.65" x2="438.87" y2="34.96" stroke="#8000ff" stroke-width="1.35" stroke-linecap="butt"/>
<polygon points="438.87,27.16 440.25,31.41 444.72,31.41 441.11,34.03 442.49,38.28 438.87,35.66 435.26,38.28 436.64,34.03 433.02,31.41 437.49,31.41" fill="none" stroke="#8000ff" stroke-width="0.9" stroke-linejoin="miter"/>
<line x1="442.68" y1="25.43" x2="442.68" y2="28.75" stroke="#8000ff" stroke-width="1.35" stroke-linecap="butt"/>
<polygon points="442.68,20.94 444.07,25.19 448.53,25.19 444.92,27.82 446.30,32.07 442.68,29.44 439.07,32.07 440.45,27.82 436.84,25.19 441.30,25.19" fill="none" stroke="#8000ff" stroke-width="0.9" stroke-linejoin="miter"/>
<line x1="446.60" y1="19.55" x2="446.60" y2="22.86" stroke="#8000ff" stroke-width="1.35" stroke-linecap="butt"/>
<polygon points="446.60,15.06 447.98,19.30 452.45,19.30 448.84,21.93 450.22,26.18 446.60,23.55 442.99,26.18 444.37,21.93 440.76,19.30 445.22,19.30" fill="none" stroke="#8000ff" stroke-width="0.9" stroke-linejoin="miter"/>
<line x1="451.07" y1="13.66" x2="451.07" y2="16.98" stroke="#8000ff" stroke-width="1.35" stroke-linecap="butt"/>
<polygon points="451.07,9.17 452.45,13.42 456.92,13.42 453.30,16.05 454.68,20.30 451.07,17.67 447.45,20.30 448.83,16.05 445.22,13.42 449.69,13.42" fill="none" stroke="#8000ff" stroke-width="0.9" stroke-linejoin="miter"/>
<line x1="454.88" y1="6.62" x2="454.88" y2="9.93" stroke="#8000ff" stroke-width="1.35" stroke-linecap="butt"/>
<polygon points="454.88,2.13 456.26,6.38 460.73,6.38 457.11,9.00 458.49,13.25 454.88,10.63 451.26,13.25 452.64,9.00 449.03,6.38 453.50,6.38" fill="none" stroke="#8000ff" stroke-width="0.9" stroke-linejoin="miter"/>
</svg>
<svg class="tx" width="471" height="319" viewBox="0 0 471 319">
<g font-family="Liberation Serif, serif" font-size="15.6" fill="#000">
<text transform="translate(81.9,295.2) scale(1,1.1)" font-size="15.8" text-anchor="middle">1</text>
<text transform="translate(155,295.2) scale(1,1.1)" font-size="15.8" text-anchor="middle">10</text>
<text transform="translate(228,295.2) scale(1,1.1)" font-size="15.8" text-anchor="middle">100</text>
<text transform="translate(370.3,295.2) scale(1,1.1)" font-size="15.8" text-anchor="middle">0.01</text>
<text transform="translate(450.3,295.2) scale(1,1.1)" font-size="15.8" text-anchor="middle">0.1</text>
<text transform="translate(278.8,295.2) scale(1,1.1)" font-size="15.8">10<tspan font-size="8.6" dy="-4.2" dx="-0.8">−3</tspan></text>
<text x="143.8" y="313" text-anchor="middle">Radius (kpc)</text>
<text x="312.8" y="312.5">Radius/R<tspan font-size="8.7" dy="4.2">vir</tspan></text>
<text transform="translate(10.7,147) rotate(-90)" text-anchor="middle" stroke="#000" stroke-width="0.2">Scaled Mass</text>
</g>
</svg>
</body></html>
